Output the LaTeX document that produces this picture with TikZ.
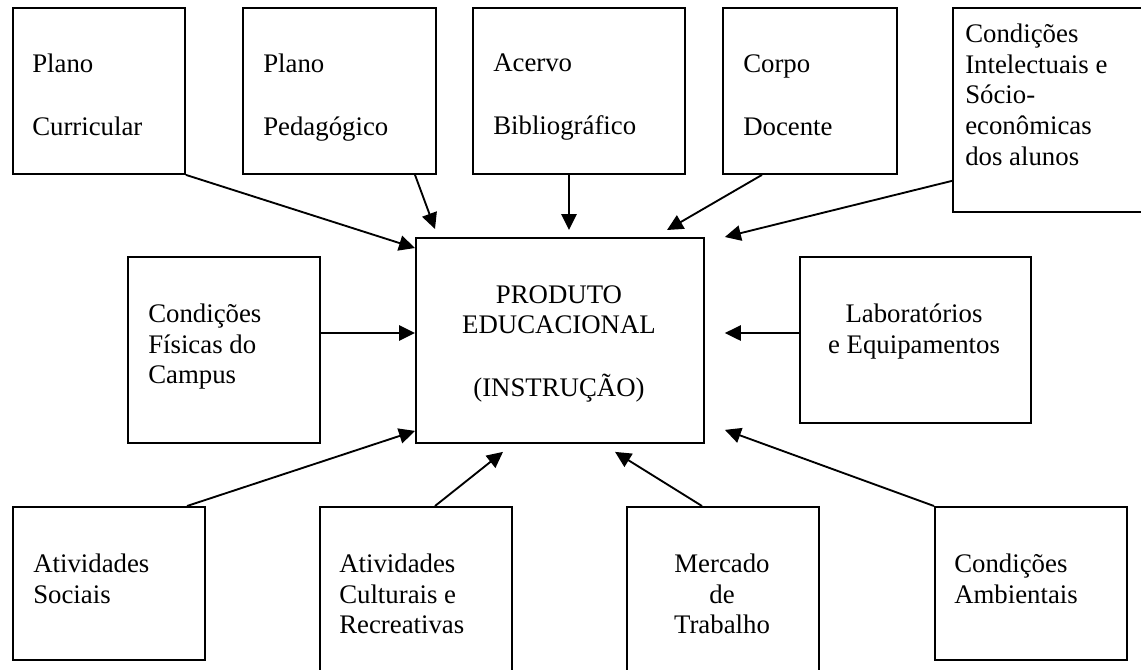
\documentclass[tikz,border=0pt]{standalone}
\usepackage{fontspec}
\setmainfont{Liberation Serif}
\usetikzlibrary{arrows.meta,calc}
\begin{document}
\begin{tikzpicture}[x=0.75pt,y=-0.75pt,
  box/.style={draw,line width=1.4pt,inner sep=0pt,anchor=north west},
  lbl/.style={inner sep=0pt,font=\fontsize{20.1pt}{22.9pt}\selectfont},
  lblL/.style={lbl,align=left,anchor=north west},
  lblC/.style={lbl,align=center,anchor=north},
  arr/.style={line width=1.4pt,-{Triangle[length=12pt,width=11.5pt]}}]
\useasboundingbox (0,0) rectangle (1141,669);
% boxes
\node[box,minimum width=129pt,minimum height=124.5pt] (curr) at (12,7) {};
\node[box,minimum width=144.75pt,minimum height=124.5pt] (ped) at (242,7) {};
\node[box,minimum width=159pt,minimum height=124.5pt] (acer) at (472,7) {};
\node[box,minimum width=130.5pt,minimum height=124.5pt] (corp) at (722,7) {};
\node[box,minimum width=156pt,minimum height=153pt] (intel) at (952,7) {};
\node[box,minimum width=144pt,minimum height=139.5pt] (fis) at (127,256) {};
\node[box,minimum width=216pt,minimum height=153.75pt] (ctr) at (415,237) {};
\node[box,minimum width=173.25pt,minimum height=124.5pt] (lab) at (799,256) {};
\node[box,minimum width=144pt,minimum height=114.75pt] (soc) at (12,506) {};
\node[box,minimum width=144pt,minimum height=138pt] (cult) at (319,506) {};
\node[box,minimum width=144pt,minimum height=138pt] (merc) at (626,506) {};
\node[box,minimum width=144pt,minimum height=114.75pt] (amb) at (934,506) {};
% texts
\node[lblL] (tcurr) at (32,54) {Plano\\[24.35pt]Curricular};
\node[lblL] (tped) at (263,54) {Plano\\[24.35pt]Pedagógico};
\node[lblL] (tacer) at (493,54) {Acervo\\[24.35pt]Bibliográfico};
\node[lblL] (tcorp) at (743,54) {Corpo\\[24.35pt]Docente};
\node[lblL] (tintel) at (965,24) {Condições\\Intelectuais e\\Sócio-\\econômicas\\dos alunos};
\node[lblL] (tfis) at (148,304) {Condições\\Físicas do\\Campus};
\node[lblC] (tctr) at (559,285) {PRODUTO\\EDUCACIONAL\\[24pt](INSTRUÇÃO)};
\node[lblC] (tlab) at (914,304) {Laboratórios\\e Equipamentos};
\node[lblL] (tsoc) at (33,554) {Atividades\\Sociais};
\node[lblL] (tcult) at (339,554) {Atividades\\Culturais e\\Recreativas};
\node[lblC] (tmerc) at (722,554) {Mercado\\de\\Trabalho};
\node[lblL] (tamb) at (954,554) {Condições\\Ambientais};
% arrow tips near the central box
\coordinate (e1) at ($(ctr.north west)+(0,11)$);
\coordinate (e2) at ($(ctr.north west)+(20,-8)$);
\coordinate (e3) at ($(ctr.north west)+(154,-7)$);
\coordinate (e4) at ($(ctr.north west)+(252,-7)$);
\coordinate (e5) at ($(ctr.north east)+(20,0)$);
\coordinate (e6) at ($(ctr.north west)+(0,96)$);
\coordinate (e7) at ($(ctr.north east)+(20,96)$);
\coordinate (e8) at ($(ctr.south west)+(0,-13)$);
\coordinate (e9) at ($(ctr.south west)+(88,8)$);
\coordinate (e10) at ($(ctr.south west)+(200,8)$);
\coordinate (e11) at ($(ctr.south east)+(20,-14)$);
% connectors
\draw[arr] (curr.south east) -- (e1);
\draw[arr] ($(ped.south west)+(173,0)$) -- (e2);
\draw[arr] ($(acer.south west)+(97,0)$) -- (e3);
\draw[arr] ($(corp.south west)+(40,0)$) -- (e4);
\draw[arr] ($(intel.south west)+(0,-32)$) -- (e5);
\draw[arr] ($(fis.north east)+(0,77)$) -- (e6);
\draw[arr] ($(lab.north west)+(0,77)$) -- (e7);
\draw[arr] ($(soc.north west)+(175,0)$) -- (e8);
\draw[arr] ($(cult.north west)+(116,0)$) -- (e9);
\draw[arr] ($(merc.north west)+(76,0)$) -- (e10);
\draw[arr] (amb.north west) -- (e11);
\end{tikzpicture}
\end{document}
